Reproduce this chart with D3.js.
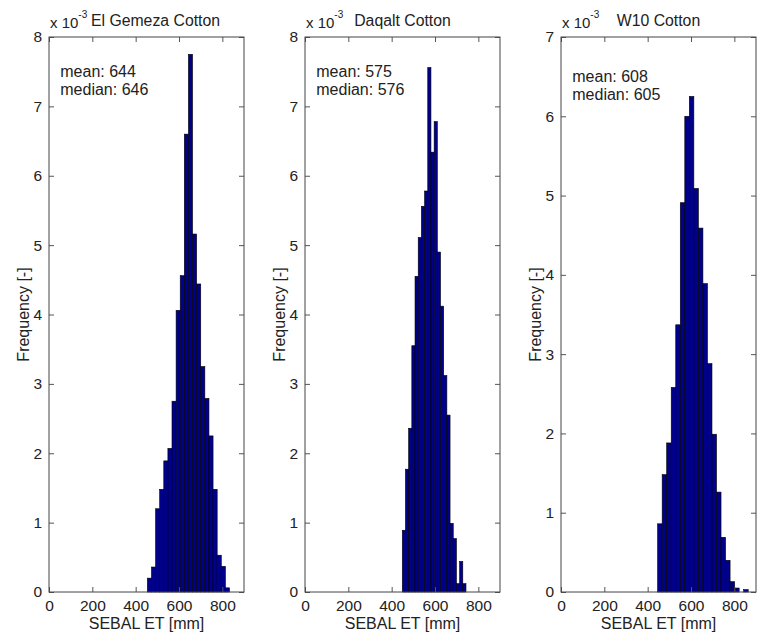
<!DOCTYPE html>
<html>
<head>
<meta charset="utf-8">
<script src="https://cdn.jsdelivr.net/npm/d3@7"></script>
<style>
    body { margin: 0; background: #fff; }
    text { font-family: "Liberation Sans", Arial, sans-serif; fill: #222; }
</style>
</head>
<body>
<svg id="chart" width="765" height="633"></svg>
<script>
// panels, left to right
let panelTitles = ["El Gemeza Cotton", "Daqalt Cotton", "W10 Cotton"];
let meanValues = [644, 575, 608];
let medianValues = [646, 576, 605];
let yMaxValues = [8, 8, 7];

// histogram bins (SEBAL ET, mm): first bin edge and bin width
let binStarts = [454, 449, 446];
let binWidths = [18.95, 14.7, 20.9];

// frequency (x 10^-3) per bin
let elGemezaFreq = [0.20, 0.36, 1.20, 1.48, 1.89, 2.07, 2.75, 4.06, 4.56, 6.60,
                    7.75, 5.16, 4.44, 3.25, 2.79, 2.25, 1.48, 0.53, 0.37, 0.06];
let daqaltFreq = [0.89, 1.77, 2.36, 3.55, 4.55, 5.11, 5.56, 5.78, 7.56, 6.34,
                  6.78, 4.90, 4.12, 3.12, 2.55, 0.99, 0.77, 0.12, 0.44, 0.12];
let w10Freq = [0.86, 1.48, 1.88, 2.58, 3.37, 4.91, 6.00, 6.25, 5.09, 4.59,
               3.89, 2.88, 1.99, 1.26, 0.69, 0.40, 0.13, 0.05, 0, 0.03];

let xTicks = [0, 200, 400, 600, 800];
let xMax = 900;

let panels = [elGemezaFreq, daqaltFreq, w10Freq].map((freq, i) => ({
    title: panelTitles[i],
    mean: meanValues[i],
    median: medianValues[i],
    yMax: yMaxValues[i],
    bins: freq.map((f, k) => ({
        x0: binStarts[i] + k * binWidths[i],
        x1: binStarts[i] + (k + 1) * binWidths[i],
        value: f
    }))
}));

let svg = d3.select("#chart");
let panelLeft = [49, 305, 561];
let plotW = 195, plotTop = 37, plotBottom = 592;
let titleShift = [9, 0, 0];

panels.forEach(function (p, i) {
    let g = svg.append("g").attr("transform", `translate(${panelLeft[i]},0)`);

    let x = d3.scaleLinear().domain([0, xMax]).range([0, plotW]);
    let y = d3.scaleLinear().domain([0, p.yMax]).range([plotBottom, plotTop]);

    // bars
    g.selectAll("rect.bar")
        .data(p.bins.filter(d => d.value > 0))
        .enter()
        .append("rect")
        .classed("bar", true)
        .attr("x", d => x(d.x0))
        .attr("width", d => x(d.x1) - x(d.x0))
        .attr("y", d => y(d.value))
        .attr("height", d => y(0) - y(d.value))
        .attr("fill", "#000088")
        .attr("stroke", "#000")
        .attr("stroke-width", 0.6);

    // axes with inward ticks on all four sides
    let axisStyle = function (sel) {
        sel.select(".domain").remove();
        sel.selectAll(".tick line").attr("stroke", "#555");
        sel.selectAll(".tick text").style("font-size", "15.5px").attr("fill", "#222");
    };

    g.append("g")
        .attr("transform", `translate(0,${plotBottom})`)
        .call(d3.axisBottom(x).tickValues(xTicks).tickSize(-5).tickPadding(8))
        .call(axisStyle);
    g.append("g")
        .attr("transform", `translate(0,${plotTop})`)
        .call(d3.axisTop(x).tickValues(xTicks).tickSize(-5).tickFormat(""))
        .call(axisStyle);
    g.append("g")
        .call(d3.axisLeft(y).ticks(p.yMax).tickSize(-5).tickPadding(7))
        .call(axisStyle);
    g.append("g")
        .attr("transform", `translate(${plotW},0)`)
        .call(d3.axisRight(y).ticks(p.yMax).tickSize(-5).tickFormat(""))
        .call(axisStyle);

    g.append("rect")
        .attr("x", 0).attr("y", plotTop)
        .attr("width", plotW).attr("height", plotBottom - plotTop)
        .attr("fill", "none")
        .attr("stroke", "#444")
        .attr("stroke-width", 1);

    // exponent label and title
    let expo = g.append("text")
        .attr("x", 1).attr("y", 28)
        .style("font-size", "15px");
    expo.append("tspan").text("x 10");
    expo.append("tspan").attr("dy", -10).style("font-size", "10px").text("-3");

    g.append("text")
        .attr("x", plotW / 2 + titleShift[i]).attr("y", 26)
        .attr("text-anchor", "middle")
        .style("font-size", "15.8px")
        .text(p.title);

    // statistics
    g.append("text")
        .attr("x", x(52)).attr("y", y(p.yMax - 0.5) + 5)
        .style("font-size", "16px")
        .text("mean: " + p.mean);
    g.append("text")
        .attr("x", x(52)).attr("y", y(p.yMax - 0.5) + 23)
        .style("font-size", "16px")
        .text("median: " + p.median);

    // axis labels
    g.append("text")
        .attr("x", plotW / 2).attr("y", 629)
        .attr("text-anchor", "middle")
        .style("font-size", "16px")
        .text("SEBAL ET [mm]");
    g.append("text")
        .attr("transform", `translate(-20,${(plotTop + plotBottom) / 2}) rotate(-90)`)
        .attr("text-anchor", "middle")
        .style("font-size", "16px")
        .text("Frequency [-]");
});
</script>
</body>
</html>
